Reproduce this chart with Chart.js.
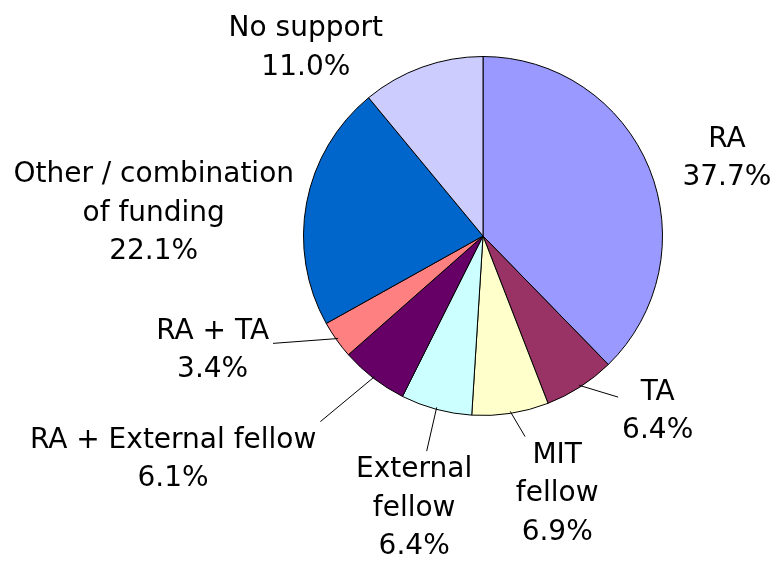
<!DOCTYPE html>
<html>
<head>
<meta charset="utf-8">
<script src="https://cdn.jsdelivr.net/npm/chart.js@4.4.1/dist/chart.umd.min.js"></script>
<style>
  html, body { margin: 0; padding: 0; background: #ffffff; }
  canvas { display: block; }
</style>
</head>
<body>
<canvas id="supportChart" width="777" height="561"></canvas>
<script>
// funding source shares, clockwise from 12 o'clock
const categories = ['RA', 'TA', 'MIT fellow', 'External fellow', 'RA + External fellow', 'RA + TA', 'Other / combination of funding', 'No support'];
const shares = [37.7, 6.4, 6.9, 6.4, 6.1, 3.4, 22.1, 11.0];

// how each category name is broken over lines in its label
const labelLines = [
  ['RA'],
  ['TA'],
  ['MIT', 'fellow'],
  ['External', 'fellow'],
  ['RA + External fellow'],
  ['RA + TA'],
  ['Other / combination', 'of funding'],
  ['No support']
];

const sliceColors = ['#9999ff', '#993366', '#ffffcc', '#ccffff', '#660066', '#ff8080', '#0066cc', '#ccccff'];

// label placement: turn from the slice's mid angle (deg) and distance in radii
const labelTurn = [4.0, -12.5, -7.4, -0.8, 16.9, 12.8, -6.2, -23.1];
const labelDist = [1.43, 1.37, 1.48, 1.55, 2.12, 1.63, 1.84, 1.45];
const hasLeader = [false, true, true, true, true, true, false, false];

const FONT = '28px "DejaVu Sans"';
const LINE_H = 38.5;

const pieLabels = {
  id: 'pieLabels',
  afterDraw(chart) {
    const ctx = chart.ctx;
    const arcs = chart.getDatasetMeta(0).data;
    ctx.save();
    ctx.font = FONT;
    ctx.fillStyle = '#000000';
    ctx.textAlign = 'center';
    ctx.textBaseline = 'alphabetic';

    arcs.forEach((arc, i) => {
      const { x, y, startAngle, endAngle, outerRadius } = arc.getProps(['x', 'y', 'startAngle', 'endAngle', 'outerRadius'], true);
      const mid = (startAngle + endAngle) / 2;
      const a = mid + labelTurn[i] * Math.PI / 180;
      const cx = x + Math.cos(a) * outerRadius * labelDist[i];
      const cy = y + Math.sin(a) * outerRadius * labelDist[i];

      const lines = labelLines[i].concat([shares[i].toFixed(1) + '%']);
      const n = lines.length;
      const firstMid = cy - (n - 1) / 2 * LINE_H;
      let w = 0;
      lines.forEach((t, k) => {
        w = Math.max(w, ctx.measureText(t).width);
        ctx.fillText(t, cx, firstMid + k * LINE_H + 10);
      });

      if (hasLeader[i]) {
        const sx = x + Math.cos(mid) * (outerRadius - 2);
        const sy = y + Math.sin(mid) * (outerRadius - 2);
        const hw = w / 2 + 4;
        const hh = (n - 1) / 2 * LINE_H + 16;
        const dx = sx - cx, dy = sy - cy;
        let ex, ey;
        if (Math.abs(dx) > hw + 20 && Math.abs(dy) > hh + 20) {
          // slice edge sits well off a corner of the label: go to that corner
          ex = cx + Math.sign(dx) * hw;
          ey = cy + Math.sign(dy) * hh;
        } else {
          // otherwise head for the label centre and stop at its box
          const t = Math.min(hw / Math.abs(dx || 1e-6), hh / Math.abs(dy || 1e-6));
          ex = cx + dx * t;
          ey = cy + dy * t;
        }
        ctx.beginPath();
        ctx.strokeStyle = '#000000';
        ctx.lineWidth = 1;
        ctx.moveTo(sx, sy);
        ctx.lineTo(ex, ey);
        ctx.stroke();
      }
    });
    ctx.restore();
  }
};

const ctx = document.getElementById('supportChart').getContext('2d');

new Chart(ctx, {
  type: 'pie',
  data: {
    labels: categories,
    datasets: [{
      data: shares,
      backgroundColor: sliceColors,
      borderColor: '#000000',
      borderWidth: 1
    }]
  },
  options: {
    responsive: false,
    animation: false,
    layout: {
      padding: { left: 303, right: 114, top: 56, bottom: 145 }
    },
    plugins: {
      legend: { display: false },
      tooltip: { enabled: false }
    }
  },
  plugins: [pieLabels]
});
</script>
</body>
</html>
